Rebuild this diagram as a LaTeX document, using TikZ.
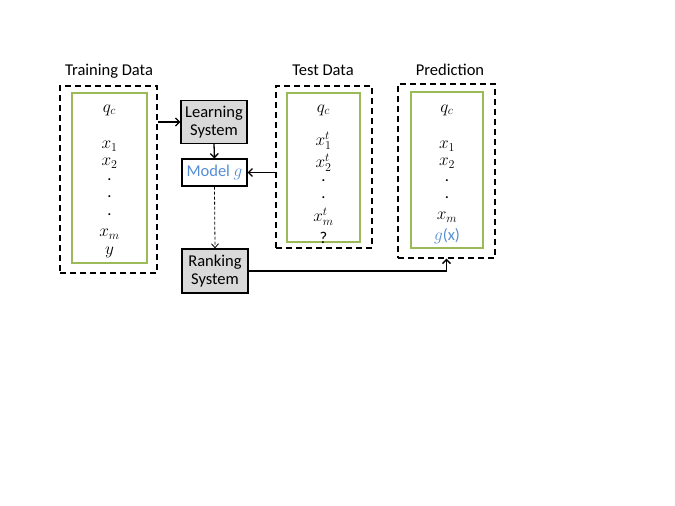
\documentclass[tikz,border=0pt]{standalone}
\usepackage{fontspec}
\setmainfont{Carlito}
\usetikzlibrary{arrows.meta}
\definecolor{pgreen}{HTML}{9BBB59}
\definecolor{pblue}{HTML}{558ED5}
\definecolor{pgray}{HTML}{D9D9D9}
\begin{document}
\begin{tikzpicture}[x=1pt,y=-1pt,
  every node/.style={font=\fontsize{16.5}{18}\selectfont, inner sep=0pt},
  outerbox/.style={draw, dash pattern=on 6pt off 4pt, line width=1.4pt, minimum width=#1},
  innerbox/.style={draw=pgreen, line width=1.4pt},
  sysbox/.style={draw, line width=1.3pt, fill=pgray, minimum width=66pt, minimum height=43pt, align=center},
  conn/.style={line width=1.3pt, -{Straight Barb[length=4pt,width=8pt,line width=1.3pt]}},
  dconn/.style={line width=0.8pt, densely dashed, -{Straight Barb[length=4pt,width=7pt]}},
  title/.style={},
  item/.style={}
]
\useasboundingbox (0,0) rectangle (675,506);
% outer dashed boxes
\node[outerbox=97pt, minimum height=187pt] (train) at (108.5,179.5) {};
\node[outerbox=96pt, minimum height=162pt] (test) at (324,167) {};
\node[outerbox=97pt, minimum height=174pt] (pred) at (446.5,171) {};
% inner green boxes
\node[innerbox, minimum width=75pt, minimum height=170pt] (traini) at (109.5,178) {};
\node[innerbox, minimum width=73pt, minimum height=149pt] (testi) at (323.5,167.5) {};
\node[innerbox, minimum width=72pt, minimum height=156pt] (predi) at (447,170) {};
% titles
\node[title] (ttrain) at (109,71) {Training Data};
\node[title] (ttest) at (323,70) {Test Data};
\node[title] (tpred) at (450,70) {Prediction};
% training items
\node (a1) at (109.5,110) {$q_c$};
\node (a2) at (109.5,146) {$x_1$};
\node (a3) at (109.5,163) {$x_2$};
\node (a4) at (109.5,180) {.};
\node (a5) at (109.5,197) {.};
\node (a6) at (109.5,215) {.};
\node (a7) at (109.5,234) {$x_m$};
\node (a8) at (109.5,252) {$y$};
% test items
\node (b1) at (323.5,110) {$q_c$};
\node (b2) at (323.5,141) {$x_1^t$};
\node (b3) at (323.5,163) {$x_2^t$};
\node (b4) at (323.5,181) {.};
\node (b5) at (323.5,198) {.};
\node (b6) at (323.5,217) {$x_m^t$};
\node (b7) at (323.5,238) {?};
% prediction items
\node (c1) at (447,110) {$q_c$};
\node (c2) at (447,146) {$x_1$};
\node (c3) at (447,163) {$x_2$};
\node (c4) at (447,181) {.};
\node (c5) at (447,198) {.};
\node (c6) at (447,217) {$x_m$};
\node[text=pblue] (c7) at (447,236) {$g$(x)};
% system boxes
\node[sysbox] (learn) at (214,122) {Learning\\System};
\node[draw, line width=1.1pt, fill=white, minimum width=65pt, minimum height=27pt, text=pblue] (model) at (214.5,172.5) {Model $g$};
\node[sysbox, minimum height=44pt] (rank) at (215,271) {Ranking\\System};
% connectors
\draw[conn] (train.east |- learn.west) -- (learn.west);
\draw[conn] (learn.south) -- (model.north);
\draw[conn] (test.west |- model.east) -- (model.east);
\draw[dconn] (model.south) -- (rank.north);
\draw[conn] (rank.east) -- (pred.south |- rank.east) -- (pred.south);
\end{tikzpicture}
\end{document}
